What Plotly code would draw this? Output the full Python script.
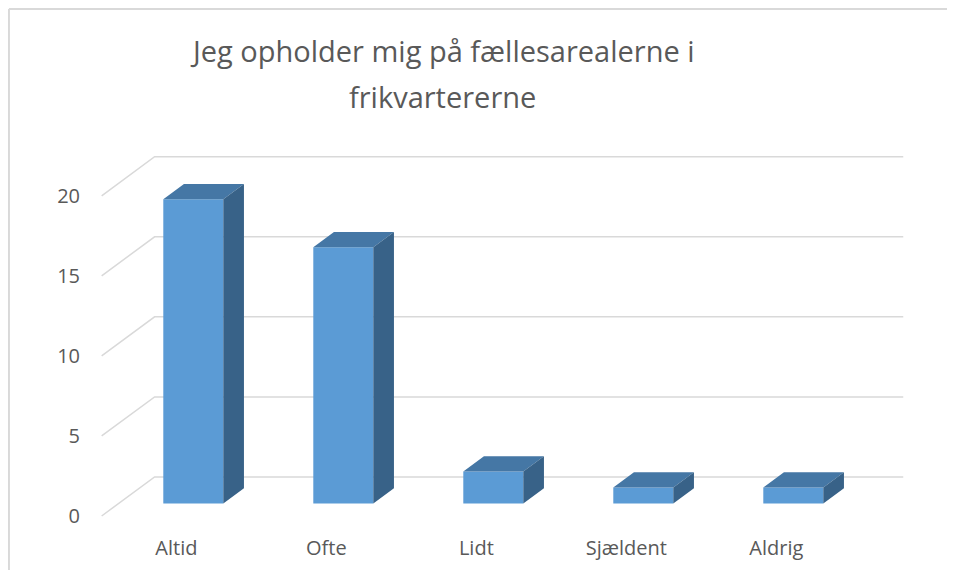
import plotly.graph_objects as go

categories = ["Altid", "Ofte", "Lidt", "Sjældent", "Aldrig"]
values = [19, 16, 2, 1, 1]
y_ticks = [0, 5, 10, 15, 20]
title_lines = ["Jeg opholder mig på fællesarealerne i", "frikvartererne"]

# fake 3d: a depth step shifts a point right and up (in data units)
DX, DY = 0.353, 2.44
FLOOR_FRONT, BAR_BACK, WALL_BACK = -0.32, 0.39, 0.68
BAR_W = 0.4
WALL_L, WALL_R = -0.498, 4.493

FRONT = "#5B9BD5"
TOP = "#4577A5"
SIDE = "#386288"
GRID = "#D9D9D9"
TXT = "#595959"


def proj(x, y, d):
    return x + d * DX, y + d * DY


xs = list(range(len(categories)))

fig = go.Figure()

# front faces
fig.add_trace(go.Bar(x=xs, y=values, width=BAR_W, marker=dict(color=FRONT, line_width=0),
                     hoverinfo="skip"))

# top + side faces
top_x, top_y, side_x, side_y = [], [], [], []
for x, v in zip(xs, values):
    l, r = x - BAR_W / 2, x + BAR_W / 2
    for px, py in [(l, v), (r, v), proj(r, v, BAR_BACK), proj(l, v, BAR_BACK), (l, v)]:
        top_x.append(px)
        top_y.append(py)
    top_x.append(None)
    top_y.append(None)
    for px, py in [(r, 0), (r, v), proj(r, v, BAR_BACK), proj(r, 0, BAR_BACK), (r, 0)]:
        side_x.append(px)
        side_y.append(py)
    side_x.append(None)
    side_y.append(None)

fig.add_trace(go.Scatter(x=top_x, y=top_y, fill="toself", fillcolor=TOP, mode="lines",
                         line=dict(width=0, color=TOP), hoverinfo="skip"))
fig.add_trace(go.Scatter(x=side_x, y=side_y, fill="toself", fillcolor=SIDE, mode="lines",
                         line=dict(width=0, color=SIDE), hoverinfo="skip"))

# gridlines on floor edge + back wall, behind the bars
for t in y_ticks:
    x0, y0 = proj(WALL_L, t, FLOOR_FRONT)
    x1, y1 = proj(WALL_L, t, WALL_BACK)
    x2, y2 = proj(WALL_R, t, WALL_BACK)
    fig.add_shape(type="path", xref="x", yref="y", layer="below",
                  path=f"M {x0},{y0} L {x1},{y1} L {x2},{y2}",
                  line=dict(color=GRID, width=1.5))

# outer chart border: only the top and left edges are in view
fig.add_shape(type="line", xref="paper", yref="paper", layer="below",
              x0=-0.0895, x1=-0.0895, y0=-0.089, y1=1.2995, line=dict(color=GRID, width=2))
fig.add_shape(type="line", xref="paper", yref="paper", layer="below",
              x0=-0.0895, x1=1.0, y0=1.2995, y1=1.2995, line=dict(color=GRID, width=2))

fig.add_annotation(text=title_lines[0], xref="paper", yref="paper", x=0.4135, y=1.251,
                   showarrow=False, font=dict(size=29, color=TXT))
fig.add_annotation(text=title_lines[1], xref="paper", yref="paper", x=0.4135, y=1.135,
                   showarrow=False, font=dict(size=29, color=TXT))

fig.update_layout(
    width=939, height=562,
    margin=dict(l=78, r=0, t=122, b=36),
    paper_bgcolor="white", plot_bgcolor="white",
    showlegend=False,
    font=dict(family="Open Sans, sans-serif", color=TXT),
    xaxis=dict(range=[-0.7153, 5.0247], tickvals=[x + FLOOR_FRONT * DX for x in xs],
               ticktext=categories, showgrid=False, zeroline=False, showline=False,
               tickfont=dict(size=20, color=TXT), fixedrange=True),
    yaxis=dict(range=[-1.906, 23.33], tickvals=[t + FLOOR_FRONT * DY for t in y_ticks],
               ticktext=[str(t) for t in y_ticks], showgrid=False, zeroline=False,
               showline=False, ticklabelstandoff=5,
               tickfont=dict(size=20, color=TXT), fixedrange=True),
)

fig.write_html("out.html")
